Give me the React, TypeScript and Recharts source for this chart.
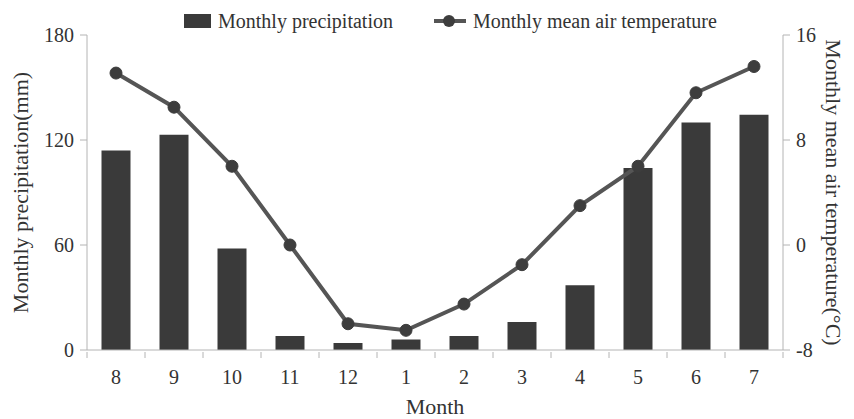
import { ComposedChart, Bar, Line, XAxis, YAxis } from 'recharts'

const months = ['8', '9', '10', '11', '12', '1', '2', '3', '4', '5', '6', '7']
const precipitation = [114, 123, 58, 8, 4, 6, 8, 16, 37, 104, 130, 134.5]
const temperature = [13.1, 10.5, 6.0, 0.0, -6.0, -6.5, -4.5, -1.5, 3.0, 6.0, 11.6, 13.6]
const precipTicks = [0, 60, 120, 180]
const tempTicks = [-8, 0, 8, 16]

const data = months.map((m, i) => ({
  month: m,
  precip: precipitation[i],
  temp: temperature[i],
}))

const FONT = '"Liberation Serif", "DejaVu Serif", serif'
const AXIS = '#b4b4b4'
const TEXT = '#333'
const BAR = '#3a3a3a'
const LINE = '#555555'

// month label in the middle, tick mark on the left edge of each band
function MonthTick(props: any) {
  const { x, y, payload, index, width } = props
  const half = (width ?? 696) / months.length / 2
  return (
    <g>
      <line x1={x - half} y1={y} x2={x - half} y2={y + 6} stroke={AXIS} />
      {index === months.length - 1 && (
        <line x1={x + half} y1={y} x2={x + half} y2={y + 6} stroke={AXIS} />
      )}
      <text x={x} y={y + 32} textAnchor="middle" fontSize={20} fontFamily={FONT} fill={TEXT}>
        {payload.value}
      </text>
    </g>
  )
}

export default function App() {
  return (
    <div style={{ position: 'absolute', left: 0, top: 0, width: 854, height: 419, background: '#fff' }}>
      {/* legend */}
      <div style={{ position: 'absolute', top: 0, left: 0, width: 854, height: 35, fontFamily: FONT, fontSize: 20, color: TEXT }}>
        <div style={{ position: 'absolute', left: 184, top: 14, width: 27, height: 14, background: BAR }} />
        <div style={{ position: 'absolute', left: 218, top: 9, lineHeight: '24px' }}>Monthly precipitation</div>
        <svg style={{ position: 'absolute', left: 432, top: 12 }} width={36} height={18}>
          <line x1={2} y1={9} x2={34} y2={9} stroke={LINE} strokeWidth={4} />
          <circle cx={17} cy={9} r={6} fill="#3d3d3d" />
        </svg>
        <div style={{ position: 'absolute', left: 473, top: 9, lineHeight: '24px' }}>Monthly mean air temperature</div>
      </div>
      <ComposedChart
        width={854}
        height={419}
        data={data}
        margin={{ top: 35, right: 0, bottom: 0, left: 0 }}
        barCategoryGap="25%"
      >
        <XAxis
          dataKey="month"
          xAxisId="m"
          height={69}
          tickSize={0}
          tickLine={false}
          axisLine={{ stroke: AXIS }}
          tick={<MonthTick />}
          interval={0}
          label={{ value: 'Month', position: 'insideBottom', offset: 5, fontSize: 22, fontFamily: FONT, fill: TEXT }}
        />
        <YAxis
          yAxisId="p"
          width={87}
          domain={[0, 180]}
          ticks={precipTicks}
          tickSize={7}
          tickMargin={6}
          axisLine={{ stroke: AXIS }}
          tickLine={{ stroke: AXIS }}
          tick={{ fontSize: 20, fontFamily: FONT, fill: TEXT }}
          label={{ value: 'Monthly precipitation(mm)', angle: -90, position: 'insideLeft', offset: 20, fontSize: 22, fontFamily: FONT, fill: TEXT, style: { textAnchor: 'middle' } }}
        />
        <YAxis
          yAxisId="t"
          orientation="right"
          width={71}
          domain={[-8, 16]}
          ticks={tempTicks}
          tickSize={7}
          tickMargin={6}
          axisLine={{ stroke: AXIS }}
          tickLine={{ stroke: AXIS }}
          tick={{ fontSize: 20, fontFamily: FONT, fill: TEXT }}
          label={{ value: 'Monthly mean air temperature(°C)', angle: 90, position: 'insideRight', offset: 20, fontSize: 22, fontFamily: FONT, fill: TEXT, style: { textAnchor: 'middle' } }}
        />
        <Bar dataKey="precip" xAxisId="m" yAxisId="p" fill={BAR} name="Monthly precipitation" isAnimationActive={false} />
        <Line
          dataKey="temp"
          xAxisId="m"
          yAxisId="t"
          type="linear"
          stroke={LINE}
          strokeWidth={4}
          dot={{ r: 6, fill: '#3d3d3d', stroke: '#3d3d3d', strokeWidth: 1 }}
          name="Monthly mean air temperature"
          isAnimationActive={false}
        />
      </ComposedChart>
    </div>
  )
}
